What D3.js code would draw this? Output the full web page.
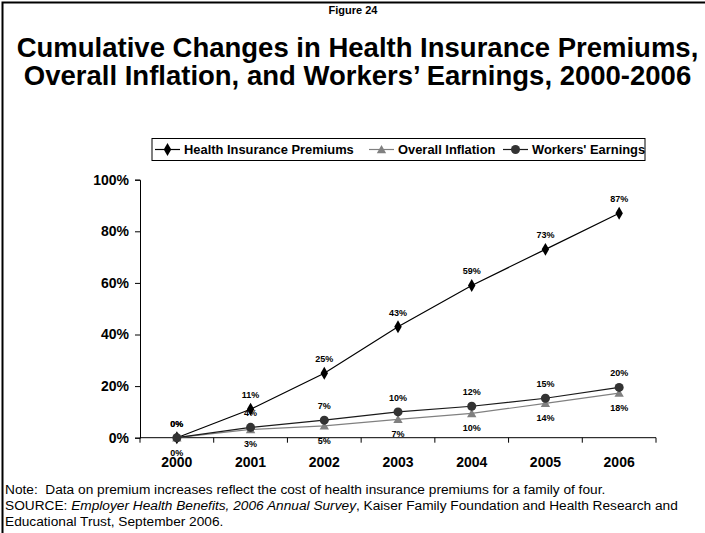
<!DOCTYPE html>
<html>
<head>
<meta charset="utf-8">
<script src="https://cdn.jsdelivr.net/npm/d3@7"></script>
<style>
  html, body { margin: 0; padding: 0; background: #fff; }
  svg { display: block; font-family: "Liberation Sans", Arial, sans-serif; }
</style>
</head>
<body>
<svg id="chart" width="705" height="533"></svg>
<script>
const years = ["2000", "2001", "2002", "2003", "2004", "2005", "2006"];
const premiums = [0, 11, 25, 43, 59, 73, 87];
const inflation = [0, 3.2, 4.6, 7.1, 9.4, 13.3, 17.3];
const earnings = [0, 4, 6.8, 10, 12.2, 15.3, 19.5];
const premiumLabels = ["0%", "11%", "25%", "43%", "59%", "73%", "87%"];
const inflationLabels = ["0%", "3%", "5%", "7%", "10%", "14%", "18%"];
const earningsLabels = ["0%", "4%", "7%", "10%", "12%", "15%", "20%"];
const yTicks = [0, 20, 40, 60, 80, 100];
const seriesNames = ["Health Insurance Premiums", "Overall Inflation", "Workers' Earnings"];

const svg = d3.select("#chart");

// frame
svg.append("path")
  .attr("d", "M2.5,533 V2.5 H705")
  .attr("fill", "none").attr("stroke", "#000").attr("stroke-width", 2);

// titles
svg.append("text").attr("x", 353).attr("y", 14).attr("text-anchor", "middle")
  .attr("font-size", 11).attr("font-weight", "bold").text("Figure 24");
const t = svg.append("text").attr("text-anchor", "middle").attr("font-size", 27.5).attr("font-weight", "bold");
t.append("tspan").attr("x", 357.5).attr("y", 57).text("Cumulative Changes in Health Insurance Premiums,");
t.append("tspan").attr("x", 357.5).attr("y", 85).text("Overall Inflation, and Workers\u2019 Earnings, 2000-2006");

// scales
const x = d3.scaleBand().domain(years).range([140, 656]);
const y = d3.scaleLinear().domain([0, 100]).range([437.7, 179.7]);
const cx = d => x(d) + x.bandwidth() / 2;

// axes
const yAxis = svg.append("g").attr("transform", "translate(140,0)")
  .call(d3.axisLeft(y).tickValues(yTicks).tickFormat(d => d + "%").tickSize(5).tickPadding(6));
yAxis.selectAll("text").attr("font-size", 14).attr("font-weight", "bold").attr("fill", "#000")
  .attr("font-family", "Liberation Sans, Arial, sans-serif");
yAxis.selectAll("line, path").attr("stroke", "#000");

const xAxis = svg.append("g").attr("transform", "translate(0,437.7)");
xAxis.append("line").attr("x1", 140).attr("x2", 656).attr("stroke", "#000");
const bounds = years.map(d => x(d)).concat([656]);
xAxis.selectAll("line.tk").data(bounds).join("line").attr("class", "tk")
  .attr("x1", d => d).attr("x2", d => d).attr("y1", 0).attr("y2", 5).attr("stroke", "#000");
xAxis.selectAll("text").data(years).join("text")
  .attr("x", d => cx(d)).attr("y", 29).attr("text-anchor", "middle")
  .attr("font-size", 14).attr("font-weight", "bold").text(d => d);

// series
const series = [
  { name: seriesNames[0], values: premiums, labels: premiumLabels, line: "#000", fill: "#000", shape: "diamond", dy: -11 },
  { name: seriesNames[1], values: inflation, labels: inflationLabels, line: "#808080", fill: "#808080", shape: "triangle", dy: 18 },
  { name: seriesNames[2], values: earnings, labels: earningsLabels, line: "#1a1a1a", fill: "#333333", shape: "circle", dy: -11 }
];
const symbolFor = s => s === "diamond" ? d3.symbol(d3.symbolDiamond, 48)
  : s === "triangle" ? d3.symbol(d3.symbolTriangle, 38) : d3.symbol(d3.symbolCircle, 64);

const line = d3.line().x((d, i) => cx(years[i])).y(d => y(d));
series.forEach(s => {
  svg.append("path").attr("d", line(s.values)).attr("fill", "none")
    .attr("stroke", s.line).attr("stroke-width", 1.2);
});
series.forEach(s => {
  svg.append("g").selectAll("text").data(s.values).join("text")
    .attr("x", (d, i) => cx(years[i])).attr("y", d => y(d) + s.dy)
    .attr("text-anchor", "middle").attr("font-size", 9).attr("font-weight", "bold")
    .attr("fill", "#000").text((d, i) => s.labels[i]);
});
series.forEach(s => {
  svg.append("g").selectAll("path").data(s.values).join("path")
    .attr("d", symbolFor(s.shape)())
    .attr("transform", (d, i) => `translate(${cx(years[i])},${y(d) + (s.shape === "triangle" ? 1 : 0)})`)
    .attr("fill", s.fill);
});

// legend
const lg = svg.append("g");
lg.append("rect").attr("x", 152).attr("y", 138.5).attr("width", 493).attr("height", 22)
  .attr("fill", "#fff").attr("stroke", "#000");
const legendX = [155, 369, 503];
series.forEach((s, i) => {
  const g = lg.append("g").attr("transform", `translate(${legendX[i]},149.5)`);
  g.append("line").attr("x1", 0).attr("x2", 25).attr("stroke", s.line).attr("stroke-width", 1.2);
  g.append("path").attr("d", symbolFor(s.shape)()).attr("transform", `translate(12.5,${s.shape === "triangle" ? 1 : 0})`).attr("fill", s.fill);
  g.append("text").attr("x", 29).attr("y", 4.5).attr("font-size", 12.9).attr("font-weight", "bold").text(s.name);
});

// notes
const notes = svg.append("g").attr("font-size", 13.7).attr("fill", "#000");
notes.append("text").attr("x", 5).attr("y", 494)
  .text("Note:\u00a0 Data on premium increases reflect the cost of health insurance premiums for a family of four.");
const src = notes.append("text").attr("x", 5).attr("y", 510);
src.append("tspan").text("SOURCE:\u00a0");
src.append("tspan").attr("font-style", "italic").text("Employer Health Benefits, 2006 Annual Survey");
src.append("tspan").text(", Kaiser Family Foundation and Health Research and");
notes.append("text").attr("x", 5).attr("y", 526).text("Educational Trust, September 2006.");
</script>
</body>
</html>
